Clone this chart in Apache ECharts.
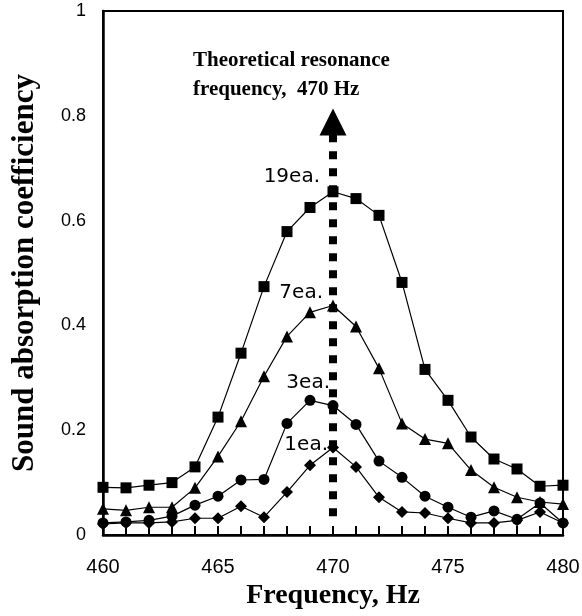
<!DOCTYPE html>
<html>
<head>
<meta charset="utf-8">
<script src="https://cdn.jsdelivr.net/npm/echarts@6/dist/echarts.min.js"></script>
<style>html,body{margin:0;padding:0;background:#fff;}#c{width:582px;height:616px;}</style>
</head>
<body>
<div id="c"></div>
<script>
var freqs = [460,461,462,463,464,465,466,467,468,469,470,471,472,473,474,475,476,477,478,479,480];
var ea19 = [0.091,0.090,0.095,0.100,0.130,0.225,0.347,0.474,0.579,0.625,0.655,0.642,0.610,0.482,0.316,0.257,0.187,0.145,0.126,0.093,0.095];
var ea7  = [0.050,0.047,0.053,0.053,0.090,0.150,0.217,0.303,0.379,0.425,0.438,0.398,0.318,0.213,0.183,0.175,0.124,0.091,0.072,0.063,0.059];
var ea3  = [0.023,0.025,0.028,0.036,0.057,0.074,0.105,0.106,0.213,0.257,0.247,0.211,0.141,0.110,0.074,0.053,0.034,0.046,0.030,0.061,0.023];
var ea1  = [0.021,0.023,0.023,0.025,0.032,0.032,0.055,0.034,0.082,0.133,0.167,0.130,0.072,0.044,0.042,0.032,0.023,0.023,0.028,0.044,0.023];
var resonanceFreq = 470;
var resonanceLine = [0.765, 0.034];
var arrowHead = 0.788;
var seriesLabels = ['19ea.','7ea.','3ea.','1ea.'];

function pairs(vals){ return freqs.map(function(f,i){ return [f, vals[i]]; }); }

function dataSeries(vals, symbol, size){
  return {
    type:'line', data: pairs(vals), symbol: symbol, symbolSize: size,
    itemStyle:{color:'#000', opacity:1}, lineStyle:{color:'#000', width:1.2},
    showSymbol:true, animation:false, z:3
  };
}

var chart = echarts.init(document.getElementById('c'));
var txtFont = 'DejaVu Sans';
chart.setOption({
  animation:false,
  backgroundColor:'#fff',
  grid:{left:103, right:19, top:11, bottom:81, containLabel:false, outerBoundsMode:'none',
        show:true, borderColor:'#000', borderWidth:2},
  xAxis:{
    type:'value', min:460, max:480, interval:1,
    axisLine:{lineStyle:{color:'#000', width:2.5}},
    axisTick:{inside:true, length:9, lineStyle:{color:'#000', width:2}},
    axisLabel:{color:'#000', fontSize:20, fontFamily:'Liberation Sans', margin:22,
      formatter:function(v){ return v % 5 === 0 ? String(v) : ''; }},
    splitLine:{show:false},
    name:'Frequency, Hz', nameLocation:'middle', nameGap:46,
    nameTextStyle:{color:'#000', fontSize:28, fontWeight:'bold', fontFamily:'Liberation Serif'}
  },
  yAxis:{
    type:'value', min:0, max:1, interval:0.2,
    axisLine:{show:true, lineStyle:{color:'#000', width:2.5}},
    axisTick:{show:false},
    axisLabel:{color:'#000', fontSize:18, fontFamily:'Liberation Sans', margin:17},
    splitLine:{show:false},
    name:'Sound absorption coefficiency', nameLocation:'middle', nameGap:63,
    nameTextStyle:{color:'#000', fontSize:31, fontWeight:'bold', fontFamily:'Liberation Serif'}
  },
  series:[
    dataSeries(ea19, 'rect', 11),
    dataSeries(ea7, 'triangle', 12),
    dataSeries(ea3, 'circle', 11),
    dataSeries(ea1, 'diamond', 12),
    {
      type:'line', data: resonanceLine.map(function(v){ return [resonanceFreq, v]; }),
      symbol:'none', lineStyle:{color:'#000', width:8, type:[8,9], cap:'butt'}, z:5, animation:false
    },
    {
      type:'scatter', data:[[resonanceFreq, arrowHead]], symbol:'triangle', symbolSize:[27,27],
      itemStyle:{color:'#000', opacity:1}, z:5, animation:false
    }
  ],
  graphic:[
    {type:'text', x:193, y:61, style:{text:'Theoretical resonance', fill:'#000', font:'bold 21px "Liberation Serif"', align:'left', verticalAlign:'middle'}},
    {type:'text', x:193, y:90, style:{text:'frequency,  470 Hz', fill:'#000', font:'bold 21px "Liberation Serif"', align:'left', verticalAlign:'middle'}},
    {type:'text', x:320, y:177, style:{text:seriesLabels[0], fill:'#000', font:'20px "'+txtFont+'"', align:'right', verticalAlign:'middle'}},
    {type:'text', x:323, y:293, style:{text:seriesLabels[1], fill:'#000', font:'20px "'+txtFont+'"', align:'right', verticalAlign:'middle'}},
    {type:'text', x:330, y:383, style:{text:seriesLabels[2], fill:'#000', font:'20px "'+txtFont+'"', align:'right', verticalAlign:'middle'}},
    {type:'text', x:328, y:445, style:{text:seriesLabels[3], fill:'#000', font:'20px "'+txtFont+'"', align:'right', verticalAlign:'middle'}}
  ]
});
</script>
</body>
</html>
